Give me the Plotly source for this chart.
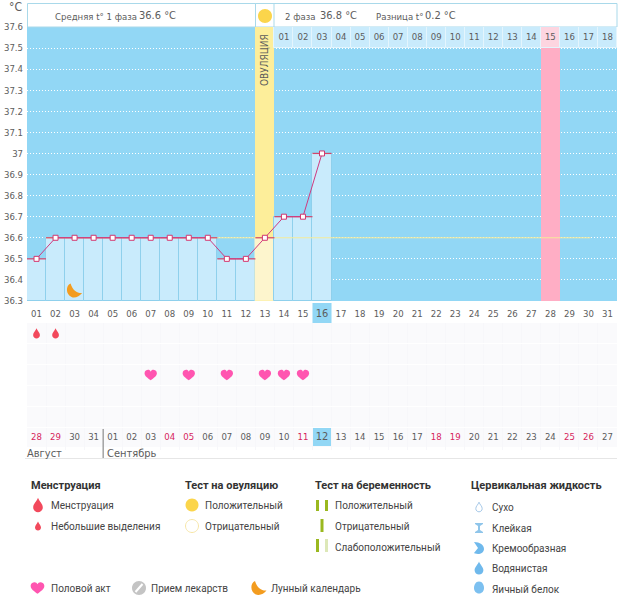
import plotly.graph_objects as go

# ------------------------
# Data
# ------------------------
temp_days = list(range(1, 17))
temps = [36.5, 36.6, 36.6, 36.6, 36.6, 36.6, 36.6, 36.6, 36.6, 36.6,
         36.5, 36.5, 36.6, 36.7, 36.7, 37.0]
cycle_days = list(range(1, 32))
cycle_labels = [f"{d:02d}" for d in cycle_days]
date_labels = ["28", "29", "30", "31", "01", "02", "03", "04", "05", "06", "07",
               "08", "09", "10", "11", "12", "13", "14", "15", "16", "17", "18",
               "19", "20", "21", "22", "23", "24", "25", "26", "27"]
red_dates = ["28", "29", "04", "05", "11", "18", "19", "25", "26"]
phase2_days = list(range(14, 32))
phase2_labels = [f"{d:02d}" for d in range(1, 19)]
temp_ticks = [36.3, 36.4, 36.5, 36.6, 36.7, 36.8, 36.9, 37.0, 37.1, 37.2, 37.3, 37.4, 37.5, 37.6]
temp_ticktext = ["36.3", "36.4", "36.5", "36.6", "36.7", "36.8", "36.9", "37",
                 "37.1", "37.2", "37.3", "37.4", "37.5", "37.6"]
ovulation_day = 13
expected_day = 28
today_day = 16
mean_temp = 36.6
mean_days = [1.5, 30.1]
bleeding_days = [1, 2]
sex_days = [7, 9, 11, 13, 14, 15]
moon_day = 3
moon_temp = 36.35

W, H = 626, 595
FONT = "DejaVu Sans Condensed, Liberation Sans, sans-serif"
LEG_FONT = "Roboto, Noto Sans, sans-serif"
BLUE = "#92d7f5"
PALE = "#c9ebfc"
EDGE = "#8fd0ec"
YELLOW = "#fdee9a"
RED = "#f2495c"
PINK = "#ff55b0"
ORANGE = "#f39c1f"
DARK = "#5c5c5c"


def px(x):
    return x / W


def py(y):
    return 1 - y / H


# ------------------------
# Icons as pixel paths around an anchor
# ------------------------
def drop_path(s):
    return (f"M 0 {6*s} C {1*s} {3*s},{4*s} {1*s},{4*s} {-2*s} C {4*s} {-4.5*s},{2*s} {-6*s},0 {-6*s} "
            f"C {-2*s} {-6*s},{-4*s} {-4.5*s},{-4*s} {-2*s} C {-4*s} {1*s},{-1*s} {3*s},0 {6*s} Z")


def heart_path(s):
    return (f"M 0 {-5.5*s} C {-3*s} {-3*s},{-6.5*s} {-1*s},{-6.5*s} {2*s} C {-6.5*s} {4.5*s},{-4*s} {5.5*s},{-2.8*s} {5.5*s} "
            f"C {-1.5*s} {5.5*s},{-0.5*s} {4.8*s},0 {3.6*s} C {0.5*s} {4.8*s},{1.5*s} {5.5*s},{2.8*s} {5.5*s} "
            f"C {4*s} {5.5*s},{6.5*s} {4.5*s},{6.5*s} {2*s} C {6.5*s} {-1*s},{3*s} {-3*s},0 {-5.5*s} Z")


def moon_path(s):
    return (f"M {-4*s} {7*s} C {-9*s} {5*s},{-9*s} {-4*s},{-3*s} {-6.5*s} C 0 {-8*s},{5*s} {-6*s},{7.5*s} {-2.5*s} "
            f"C {3*s} {-3*s},{-2*s} 0,{-4*s} {7*s} Z")


def circle_path(r):
    k = 0.5523 * r
    return (f"M {r} 0 C {r} {k},{k} {r},0 {r} C {-k} {r},{-r} {k},{-r} 0 "
            f"C {-r} {-k},{-k} {-r},0 {-r} C {k} {-r},{r} {-k},{r} 0 Z")


def icon(path, x, y, color, line=None, xref="paper", yref="paper"):
    # x, y are data values when refs are axes, window pixels otherwise
    return dict(type="path", path=path, xsizemode="pixel", ysizemode="pixel",
                xref=xref, yref=yref,
                xanchor=px(x) if xref == "paper" else x,
                yanchor=py(y) if yref == "paper" else y,
                fillcolor=color, line=dict(color=line or color, width=1 if line else 0),
                layer="above")


def box(x0, y0, x1, y1, color, line=None, layer="below"):
    return dict(type="rect", xref="paper", yref="paper", x0=px(x0), x1=px(x1), y0=py(y0), y1=py(y1),
                fillcolor=color, line=dict(color=line or color, width=1 if line else 0), layer=layer)


def note(x, y, text, size=9.5, color=DARK, font=FONT, xanchor="left", angle=0):
    return dict(x=px(x), y=py(y), xref="paper", yref="paper", text=text, showarrow=False,
                xanchor=xanchor, yanchor="middle", textangle=angle,
                xshift=-2 if xanchor == "left" else 0,
                font=dict(family=font, size=size, color=color))


fig = go.Figure()

# ------------------------
# Upper panel: temperature
# ------------------------
fig.add_trace(go.Bar(
    x=[ovulation_day, expected_day], y=[37.6 - 36.3] * 2, base=36.3, width=1,
    marker=dict(color=[YELLOW, "#ffaec5"], line_width=0), hoverinfo="skip"))
fig.add_trace(go.Bar(
    x=phase2_days, y=[0.1] * len(phase2_days), base=37.5, width=1,
    marker=dict(color=["#fdd5e0" if d == expected_day else PALE for d in phase2_days],
                line=dict(color="#e4f5fd", width=1)), hoverinfo="skip"))
fig.add_trace(go.Bar(
    x=temp_days, y=[t - 36.3 for t in temps], base=36.3, width=1,
    marker=dict(color=["#fdf5cd" if d == ovulation_day else PALE for d in temp_days],
                line=dict(color=["rgba(0,0,0,0)" if d == ovulation_day else EDGE for d in temp_days], width=1)),
    hoverinfo="skip"))
fig.add_trace(go.Scatter(
    x=mean_days, y=[mean_temp] * 2, mode="lines",
    line=dict(color="#f5eb9a", width=1), hoverinfo="skip"))
fig.add_trace(go.Scatter(
    x=temp_days, y=temps, mode="lines+markers",
    line=dict(color="#cf3a80", width=1),
    marker=dict(symbol="square", size=5, color="white", line=dict(color="#d2366e", width=1)),
    error_x=dict(type="data", array=[0.5] * len(temp_days), color="#d2456a", thickness=1.2, width=0)))
fig.add_trace(go.Scatter(
    x=phase2_days, y=[37.55] * len(phase2_days), mode="text", text=phase2_labels,
    textfont=dict(family=FONT, size=9.5, color=DARK), hoverinfo="skip"))

# ------------------------
# Lower panel: dates row
# ------------------------
fig.add_trace(go.Scatter(
    x=cycle_days, y=[5.5] * len(cycle_days), mode="text", xaxis="x2", yaxis="y2",
    text=[f'<span style="font-size:11px">{t}</span>' if d == today_day else t
          for d, t in zip(cycle_days, date_labels)],
    textfont=dict(family=FONT, size=9.5,
                  color=["#d6245c" if t in red_dates and d != today_day else DARK
                         for d, t in zip(cycle_days, date_labels)]),
    hoverinfo="skip"))

shapes = [
    # panel backgrounds, header strip
    box(27, 27, 617, 301, BLUE),
    box(27, 323, 617, 447, "#fafafc"),
    box(27.5, 3.5, 617, 27, "white", "#a9d9ea"),
    box(255.5, 3.5, 274, 27, "white", "#a9d9ea"),
    # today highlight in both day rows
    dict(type="rect", xref="x", yref="paper", x0=today_day - 0.5, x1=today_day + 0.5,
         y0=py(323), y1=py(303), fillcolor=BLUE, line_width=0, layer="below"),
    dict(type="rect", xref="x", yref="paper", x0=today_day - 0.5, x1=today_day + 0.5,
         y0=py(446), y1=py(427), fillcolor=BLUE, line_width=0, layer="below"),
    # month divider and rule
    dict(type="line", xref="x", yref="paper", x0=4.5, x1=4.5, y0=py(429), y1=py(458),
         line=dict(color="#777777", width=1)),
    dict(type="line", xref="paper", yref="paper", x0=px(25), x1=px(617), y0=py(458.5), y1=py(458.5),
         line=dict(color="#e6e6e6", width=1)),
    icon(circle_path(7), 265, 16, "#fbd54b"),
]
# marks on the chart
for d in bleeding_days:
    shapes.append(icon(drop_path(0.85), d, 0.5, RED, xref="x", yref="y2"))
for d in sex_days:
    shapes.append(icon(heart_path(0.95), d, 2.5, PINK, xref="x", yref="y2"))
shapes.append(icon(moon_path(1), moon_day, moon_temp, ORANGE, xref="x", yref="y"))

# ------------------------
# Legend icons
# ------------------------
shapes += [
    icon(drop_path(1.2), 38, 505, RED),
    icon(drop_path(0.75), 38, 526, RED),
    icon(circle_path(6.5), 192, 505, "#fbd54b"),
    icon(circle_path(6.5), 192, 526, "white", "#f7e6a6"),
    box(316, 500, 319, 511, "#9ab81f"), box(325, 500, 328, 511, "#9ab81f"),
    box(320.5, 519, 323.5, 532, "#9ab81f"),
    box(316, 539, 319, 552, "#9ab81f"), box(325, 539, 328, 552, "#dde8b8"),
    icon(drop_path(0.8), 479, 507, "white", "#a5c8e8"),
    dict(type="path", xref="paper", yref="paper", xsizemode="pixel", ysizemode="pixel",
         xanchor=px(479), yanchor=py(528),
         path="M -4 5 L 4 5 L 4 4 L 1 2 L 1 -2 L 4 -4 L 4 -5 L -4 -5 L -4 -4 L -1 -2 L -1 2 L -4 4 Z",
         fillcolor="#8fc5ea", line_width=0),
    icon("M -5 6 C 1 6,5 3,5 -1 C 5 -4,2 -6,-1 -6 C -3 -6,-5 -5,-5 -5 L -1 0 Z", 479, 548, "#6fb9ec"),
    icon(drop_path(1.1), 479, 568, "#6fb9ec"),
    dict(type="path", xref="paper", yref="paper", xsizemode="pixel", ysizemode="pixel",
         xanchor=px(479), yanchor=py(588),
         path="M 0 6.5 C 3.5 6.5,5 3,5 0 C 5 -3,3 -5.5,0 -5.5 C -3 -5.5,-5 -3,-5 0 C -5 3,-3.5 6.5,0 6.5 Z",
         fillcolor="#7cc0f0", line_width=0),
    icon(heart_path(1.05), 37.5, 588, PINK),
    icon(circle_path(7), 139, 588, "#c4c4c4"),
    dict(type="line", xref="paper", yref="paper", x0=px(135.5), x1=px(142.5), y0=py(592), y1=py(584),
         line=dict(color="white", width=2)),
    icon(moon_path(1), 259, 588, ORANGE),
]

annotations = [
    note(9, 7, "°C", size=12, xanchor="left"),
    note(55, 16, "Средняя t° 1 фаза"),
    note(139, 15.5, "36.6 °C", size=11),
    note(285, 16, "2 фаза"),
    note(320, 15.5, "36.8 °C", size=11),
    note(376, 16, "Разница t°"),
    note(425, 15.5, "0.2 °C", size=11),
    note(265, 60, "ОВУЛЯЦИЯ", size=10, xanchor="center", angle=-90),
    note(27, 453, "Август", size=11),
    note(107, 453, "Сентябрь", size=11),
]

titles = [(31, "Менструация"), (185, "Тест на овуляцию"), (315, "Тест на беременность"), (471, "Цервикальная жидкость")]
for x, t in titles:
    annotations.append(note(x, 485, f"<b>{t}</b>", size=11, color="#333333", font=LEG_FONT))

legend_items = [
    (51, 505, "Менструация"), (51, 526, "Небольшие выделения"),
    (205, 505, "Положительный"), (205, 526, "Отрицательный"),
    (335, 505, "Положительный"), (335, 526, "Отрицательный"), (335, 547, "Слабоположительный"),
    (492, 507, "Сухо"), (492, 528, "Клейкая"), (492, 548, "Кремообразная"),
    (492, 568, "Водянистая"), (492, 589, "Яичный белок"),
    (51, 588, "Половой акт"), (151, 588, "Прием лекарств"), (271, 588, "Лунный календарь"),
]
for x, y, t in legend_items:
    annotations.append(note(x, y, t, size=10, color="#444444", font=LEG_FONT))

fig.update_layout(
    width=W, height=H, margin=dict(l=0, r=0, t=0, b=0, autoexpand=False),
    paper_bgcolor="white", plot_bgcolor="rgba(0,0,0,0)",
    barmode="overlay", bargap=0, showlegend=False,
    font=dict(family=FONT, size=10, color=DARK),
    shapes=shapes, annotations=annotations,
    xaxis=dict(domain=[px(27), px(617)], range=[0.5, 31.5], anchor="y",
               tickmode="array", tickvals=cycle_days,
               ticktext=[f'<span style="font-size:11px">{t}</span>' if d == today_day else t
                         for d, t in zip(cycle_days, cycle_labels)],
               ticks="", showgrid=False, zeroline=False, tickangle=0, ticklabelstandoff=5,
               tickfont=dict(family=FONT, size=9.5, color=DARK)),
    yaxis=dict(domain=[py(301), py(27)], range=[36.3, 37.6], anchor="x",
               tickmode="array", tickvals=temp_ticks, ticktext=temp_ticktext,
               ticks="", showgrid=True, gridcolor="white", griddash="1px,2px", gridwidth=1,
               zeroline=False, ticklabelstandoff=3,
               tickfont=dict(family=FONT, size=9.5, color=DARK)),
    xaxis2=dict(domain=[px(27), px(617)], range=[0.5, 31.5], anchor="y2",
                tickmode="array", tickvals=[d + 0.5 for d in cycle_days], showticklabels=False,
                ticks="", showgrid=True, gridcolor="#f7f7fa", zeroline=False),
    yaxis2=dict(domain=[py(450), py(323)], range=[6.1, 0], anchor="x2",
                tickmode="array", tickvals=[1, 2, 3, 4, 5], showticklabels=False,
                ticks="", showgrid=True, gridcolor="#ffffff", zeroline=False),
)

fig.write_html("out.html", config={"displayModeBar": False},
               post_script="document.body.style.margin='0'")
